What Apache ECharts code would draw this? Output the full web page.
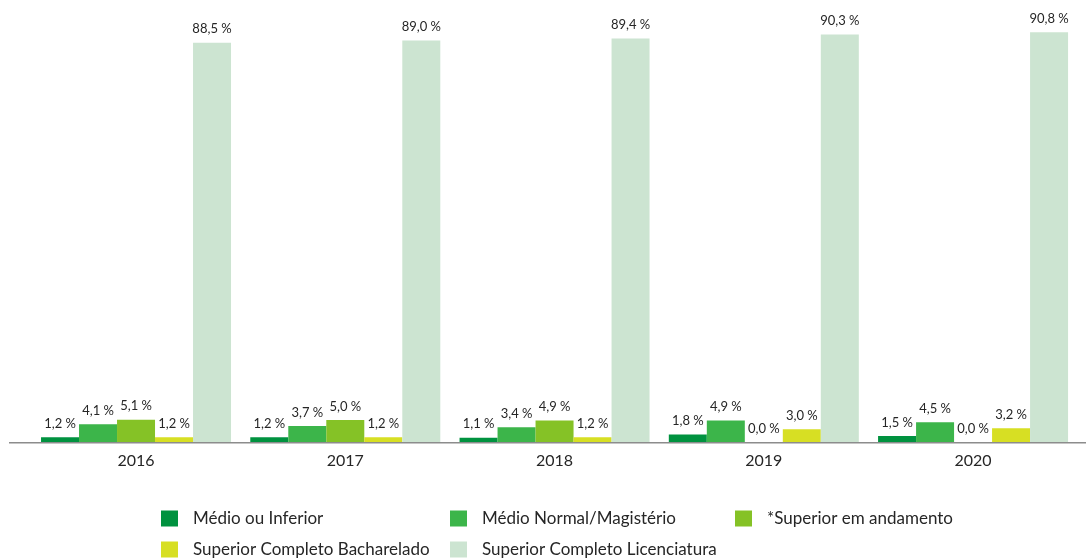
<!DOCTYPE html>
<html>
<head>
<meta charset="utf-8">
<script src="https://cdn.jsdelivr.net/npm/echarts@6/dist/echarts.min.js"></script>
<style>
  html, body { margin: 0; padding: 0; background: #fff; }
  #chart { width: 1086px; height: 558px; }
</style>
</head>
<body>
<div id="chart"></div>
<script>
// Formação dos professores, por ano (%)
const years = ['2016', '2017', '2018', '2019', '2020'];

const medioInferior   = [1.2, 1.2, 1.1, 1.8, 1.5];
const medioNormal     = [4.1, 3.7, 3.4, 4.9, 4.5];
const superiorAndam   = [5.1, 5.0, 4.9, 0.0, 0.0];
const bacharelado     = [1.2, 1.2, 1.2, 3.0, 3.2];
const licenciatura    = [88.5, 89.0, 89.4, 90.3, 90.8];

const seriesNames = [
  'Médio ou Inferior',
  'Médio Normal/Magistério',
  '*Superior em andamento',
  'Superior Completo Bacharelado',
  'Superior Completo Licenciatura'
];
const seriesData = [medioInferior, medioNormal, superiorAndam, bacharelado, licenciatura];
const colors = ['#00923F', '#3CB54A', '#85C226', '#D7DF23', '#CCE4D1'];

const FONT = 'Lato, "Open Sans", sans-serif';

const fmt = v => v.toFixed(1).replace('.', ',') + ' %';

const series = seriesNames.map((name, i) => ({
  name,
  type: 'bar',
  data: seriesData[i],
  barWidth: 38,
  barGap: '0%',
  itemStyle: { color: colors[i] },
  label: {
    show: true,
    position: 'top',
    distance: 7,
    color: '#262626',
    fontFamily: FONT,
    fontSize: 13,
    formatter: p => fmt(p.value)
  }
}));

// Legend laid out as a fixed three-column grid
const legendPos = [
  { left: 161, top: 510 },
  { left: 450, top: 510 },
  { left: 735, top: 510 },
  { left: 161, top: 541 },
  { left: 450, top: 541 }
];
const legends = seriesNames.map((name, i) => ({
  data: [name],
  left: legendPos[i].left,
  top: legendPos[i].top,
  padding: 0,
  itemWidth: 17,
  itemHeight: 16,
  icon: 'rect',
  selectedMode: false,
  textStyle: {
    color: '#262626',
    fontFamily: FONT,
    fontSize: 17,
    padding: [0, 0, 0, 10]
  }
}));

const chart = echarts.init(document.getElementById('chart'), null, { renderer: 'canvas' });
chart.setOption({
  animation: false,
  color: colors,
  grid: { left: 31.4, width: 1046.3, top: 13.3, height: 429.4, containLabel: false },
  legend: legends,
  xAxis: {
    type: 'category',
    data: years,
    axisLine: { show: false },
    axisTick: { show: false },
    axisLabel: { color: '#262626', fontFamily: FONT, fontSize: 16, margin: 10 }
  },
  yAxis: {
    type: 'value',
    min: 0,
    max: 95,
    show: false,
    splitLine: { show: false }
  },
  graphic: [{
    type: 'line',
    shape: { x1: 9, y1: 442.7, x2: 1086, y2: 442.7 },
    style: { stroke: '#8C8C8C', lineWidth: 1.5 },
    z: 10
  }],
  series
});
</script>
</body>
</html>
